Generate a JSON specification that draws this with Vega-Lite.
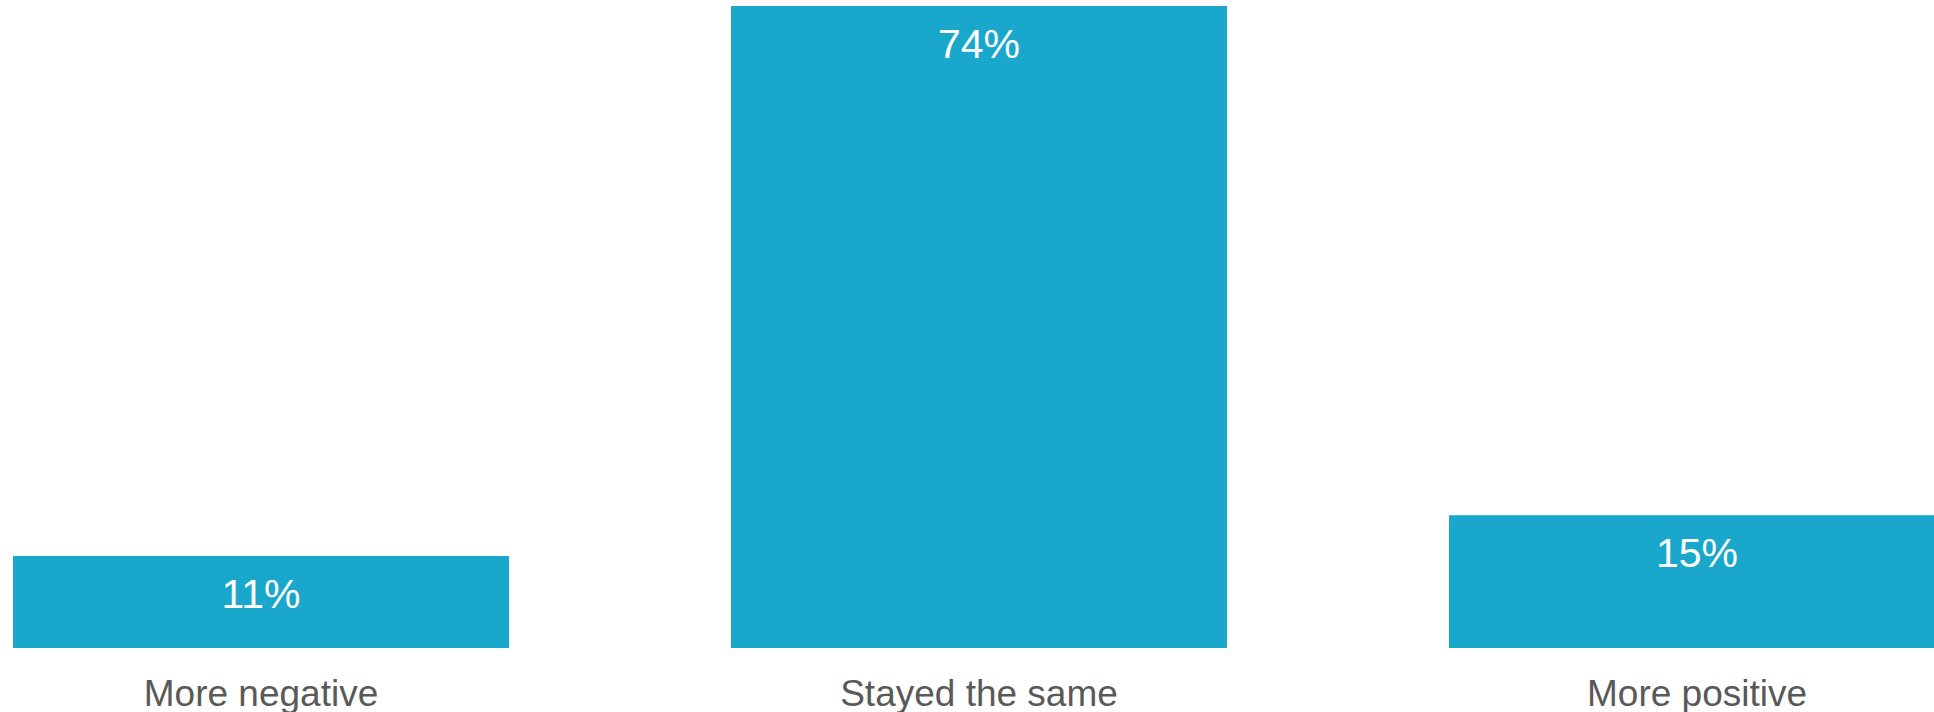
{
  "$schema": "https://vega.github.io/schema/vega-lite/v6.json",
  "width": 1934,
  "height": 642,
  "autosize": {"type": "none"},
  "padding": {"top": 6, "bottom": 64, "left": 0, "right": 0},
  "background": "#ffffff",
  "config": {"view": {"stroke": null}, "font": "Liberation Sans"},
  "data": {
    "values": [
      {"category": "More negative", "value": 10.6, "label": "11%"},
      {"category": "Stayed the same", "value": 74.0, "label": "74%"},
      {"category": "More positive", "value": 15.3, "label": "15%"}
    ]
  },
  "encoding": {
    "x": {
      "field": "category",
      "type": "nominal",
      "sort": null,
      "scale": {"range": [13, 1945], "paddingInner": 0.3092, "paddingOuter": 0},
      "axis": {
        "title": null,
        "labelAngle": 0,
        "domain": false,
        "ticks": false,
        "tickSize": 0,
        "labelPadding": 57,
        "labelBaseline": "alphabetic",
        "labelFontSize": 37,
        "labelLimit": 0,
        "labelColor": "#595959",
        "labelFont": "Liberation Sans",
        "grid": false
      }
    },
    "y": {
      "field": "value",
      "type": "quantitative",
      "scale": {"domain": [0, 74], "nice": false},
      "axis": null
    }
  },
  "layer": [
    {"mark": {"type": "bar", "color": "#19A7CB", "clip": true}},
    {
      "mark": {"type": "text", "color": "#ffffff", "fontSize": 41, "baseline": "alphabetic", "dy": 52, "align": "center", "font": "Liberation Sans"},
      "encoding": {"text": {"field": "label"}}
    }
  ]
}
